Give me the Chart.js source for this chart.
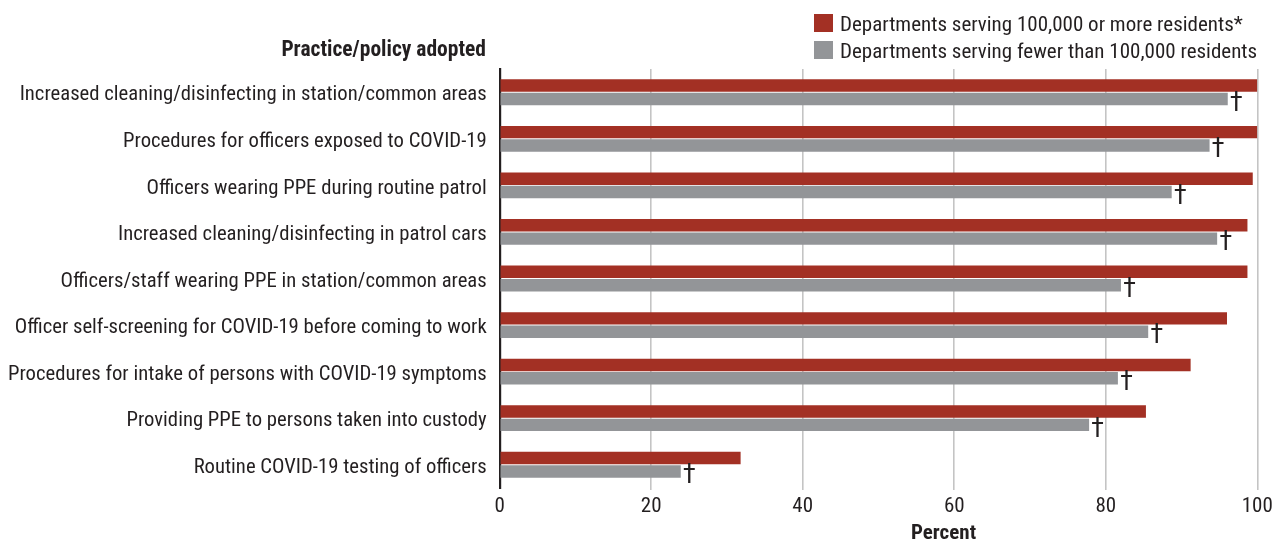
<!DOCTYPE html>
<html>
<head>
<meta charset="utf-8">
<script src="https://cdn.jsdelivr.net/npm/chart.js@4"></script>
<style>
  html,body{margin:0;padding:0;background:#fff;}
  #wrap{position:relative;width:1277px;height:542px;overflow:hidden;font-family:'Roboto Condensed',sans-serif;color:#231f20;}
  canvas{position:absolute;left:0;top:0;}
  .lg{position:absolute;left:814px;height:26px;line-height:26px;font-size:21px;white-space:nowrap;}
  .lg i{display:inline-block;width:19px;height:18px;vertical-align:middle;margin-right:7px;position:relative;top:-2px;}
  #ttl{position:absolute;right:791px;top:34px;font-size:21.5px;font-weight:bold;white-space:nowrap;line-height:30px;}
  #xt{position:absolute;left:911px;top:517px;font-size:21px;font-weight:bold;line-height:30px;white-space:nowrap;}
</style>
</head>
<body>
<div id="wrap">
  <canvas id="c" width="1277" height="542"></canvas>
  <div id="ttl">Practice/policy adopted</div>
  <div class="lg" style="top:11px"><i style="background:#a33024"></i>Departments serving 100,000 or more residents*</div>
  <div class="lg" style="top:38px"><i style="background:#939598"></i>Departments serving fewer than 100,000 residents</div>
  <div id="xt">Percent</div>
</div>
<script>
const categories = [
  "Increased cleaning/disinfecting in station/common areas",
  "Procedures for officers exposed to COVID-19",
  "Officers wearing PPE during routine patrol",
  "Increased cleaning/disinfecting in patrol cars",
  "Officers/staff wearing PPE in station/common areas",
  "Officer self-screening for COVID-19 before coming to work",
  "Procedures for intake of persons with COVID-19 symptoms",
  "Providing PPE to persons taken into custody",
  "Routine COVID-19 testing of officers"
];
const seriesNames = [
  "Departments serving 100,000 or more residents*",
  "Departments serving fewer than 100,000 residents"
];
const largeDepts = [100, 100, 99.4, 98.7, 98.7, 96.0, 91.2, 85.3, 31.8];
const smallDepts = [96.1, 93.7, 88.7, 94.7, 82.0, 85.6, 81.6, 77.8, 23.9];
const smallMarkers = ["†","†","†","†","†","†","†","†","†"];
const xTicks = [0, 20, 40, 60, 80, 100];

const RED = '#a33024', GREY = '#939598', TXT = '#231f20';
const FONT = "'Roboto Condensed', sans-serif";

const daggerPlugin = {
  id: 'dagger',
  afterDatasetsDraw(chart) {
    const meta = chart.getDatasetMeta(1);
    const ctx = chart.ctx;
    ctx.save();
    ctx.fillStyle = TXT;
    ctx.font = "27px " + FONT;
    ctx.textAlign = 'left';
    ctx.textBaseline = 'middle';
    meta.data.forEach((el, i) => {
      if (smallMarkers[i]) ctx.fillText(smallMarkers[i], el.x + 2, el.y + 5);
    });
    ctx.restore();
  }
};

new Chart(document.getElementById('c'), {
  type: 'bar',
  data: {
    labels: categories,
    datasets: [
      { label: seriesNames[0], data: largeDepts, backgroundColor: RED, categoryPercentage: 0.575, barPercentage: 0.93 },
      { label: seriesNames[1], data: smallDepts, backgroundColor: GREY, categoryPercentage: 0.575, barPercentage: 0.93 }
    ]
  },
  options: {
    indexAxis: 'y',
    responsive: false,
    animation: false,
    layout: { padding: { left: 0, right: 19.7, top: 69, bottom: 0 } },
    plugins: { legend: { display: false }, tooltip: { enabled: false } },
    scales: {
      x: {
        min: 0, max: 100,
        afterBuildTicks(scale) { scale.ticks = xTicks.map(v => ({ value: v })); },
        afterFit(scale) { scale.height = 54; },
        grid: {
          color: ctx => (ctx.tick && ctx.tick.value === 0) ? 'rgba(0,0,0,0)' : '#c4c4c4',
          lineWidth: 1.6,
          drawTicks: true,
          tickLength: 2
        },
        border: { display: false },
        ticks: { color: TXT, font: { family: FONT, size: 21 }, padding: 4, maxRotation: 0 }
      },
      y: {
        afterFit(scale) { scale.width = 499.7; },
        grid: { display: false },
        border: { display: true, color: '#231f20', width: 2.2 },
        ticks: { color: TXT, font: { family: FONT, size: 20.7 }, padding: 5, labelOffset: 3, autoSkip: false }
      }
    }
  },
  plugins: [daggerPlugin]
});
</script>
</body>
</html>
